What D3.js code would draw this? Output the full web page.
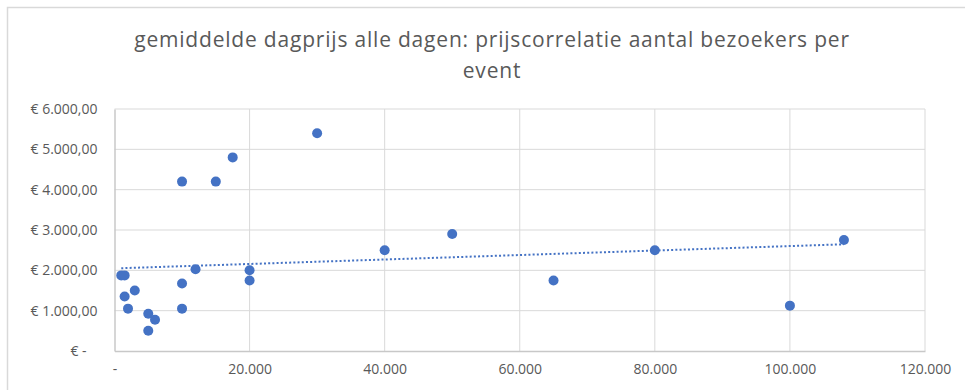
<!DOCTYPE html>
<html>
<head>
<meta charset="utf-8">
<script src="https://cdn.jsdelivr.net/npm/d3@7/dist/d3.min.js"></script>
<style>
  html, body { margin: 0; padding: 0; background: #fff; }
  svg { display: block; }
  text { font-family: "Open Sans", "Noto Sans", sans-serif; fill: #595959; }
</style>
</head>
<body>
<svg id="chart" width="965" height="390"></svg>
<script>
// Aantal bezoekers per event
const visitors = [1000, 1500, 1500, 3000, 2000, 5000, 6000, 5000, 10000, 10000, 12000,
  20000, 20000, 10000, 15000, 17500, 30000, 40000, 50000, 65000, 80000, 100000, 108000];
// Gemiddelde dagprijs (EUR)
const dayPrice = [1875, 1875, 1350, 1500, 1050, 925, 775, 500, 1675, 1050, 2025,
  2000, 1750, 4200, 4200, 4800, 5400, 2500, 2900, 1750, 2500, 1125, 2750];

const xTicks = [0, 20000, 40000, 60000, 80000, 100000, 120000];
const yTicks = [0, 1000, 2000, 3000, 4000, 5000, 6000];
const titleLines = ["gemiddelde dagprijs alle dagen: prijscorrelatie aantal bezoekers per", "event"];

const nl = d3.formatLocale({ decimal: ",", thousands: ".", grouping: [3], currency: ["€ ", ""] });
const fmtPrice = v => v === 0 ? "€ -\u00a0\u00a0\u00a0" : "€ " + nl.format(",.2f")(v);
const fmtCount = v => v === 0 ? "-" : nl.format(",.0f")(v);

const svg = d3.select("#chart");
const W = 965, H = 390;
const plot = { left: 114.5, right: 925, top: 109, bottom: 351 };

// outer chart frame
svg.append("rect").attr("x", 7.5).attr("y", 7.5).attr("width", W).attr("height", H)
  .attr("fill", "none").attr("stroke", "#d9d9d9").attr("stroke-width", 1.5);

const x = d3.scaleLinear().domain([0, 120000]).range([plot.left, plot.right]);
const y = d3.scaleLinear().domain([0, 6000]).range([plot.bottom, plot.top]);

// title
svg.append("text").attr("x", 492).attr("text-anchor", "middle")
  .style("font-size", "21px").style("letter-spacing", "0.8px")
  .selectAll("tspan").data(titleLines).join("tspan")
  .attr("x", 492).attr("y", (d, i) => 47 + i * 31).text(d => d);

// gridlines
const grid = svg.append("g").attr("stroke", "#d9d9d9").attr("stroke-width", 1);
grid.selectAll(".gx").data(xTicks.slice(1)).join("line")
  .attr("x1", d => x(d)).attr("x2", d => x(d)).attr("y1", plot.top).attr("y2", plot.bottom);
grid.selectAll(".gy").data(yTicks.slice(1)).join("line")
  .attr("x1", plot.left).attr("x2", plot.right).attr("y1", d => y(d)).attr("y2", d => y(d));

// axes
const yAxis = svg.append("g").attr("transform", `translate(${plot.left},0)`)
  .call(d3.axisLeft(y).tickValues(yTicks).tickFormat(fmtPrice).tickSize(0).tickPadding(17));
const xAxis = svg.append("g").attr("transform", `translate(0,${plot.bottom})`)
  .call(d3.axisBottom(x).tickValues(xTicks).tickFormat(fmtCount).tickSize(0).tickPadding(13));
[yAxis, xAxis].forEach(g => {
  g.select(".domain").attr("stroke", "#c8c8c8").attr("stroke-width", 1.5);
  g.selectAll("text").style("font-size", "14px").attr("fill", "#595959")
    .style("font-family", "'Open Sans', sans-serif");
});

// linear trendline (least squares)
const mx = d3.mean(visitors), my = d3.mean(dayPrice);
let sxy = 0, sxx = 0;
visitors.forEach((v, i) => { sxy += (v - mx) * (dayPrice[i] - my); sxx += (v - mx) ** 2; });
const slope = sxy / sxx, icpt = my - slope * mx;
const [x0, x1] = d3.extent(visitors);
svg.append("line")
  .attr("x1", x(x0)).attr("y1", y(icpt + slope * x0))
  .attr("x2", x(x1)).attr("y2", y(icpt + slope * x1))
  .attr("stroke", "#4472c4").attr("stroke-width", 2).attr("stroke-dasharray", "2,2.2");

// points
svg.append("g").selectAll("circle").data(visitors).join("circle")
  .attr("cx", d => x(d)).attr("cy", (d, i) => y(dayPrice[i])).attr("r", 5)
  .attr("fill", "#4472c4");
</script>
</body>
</html>
